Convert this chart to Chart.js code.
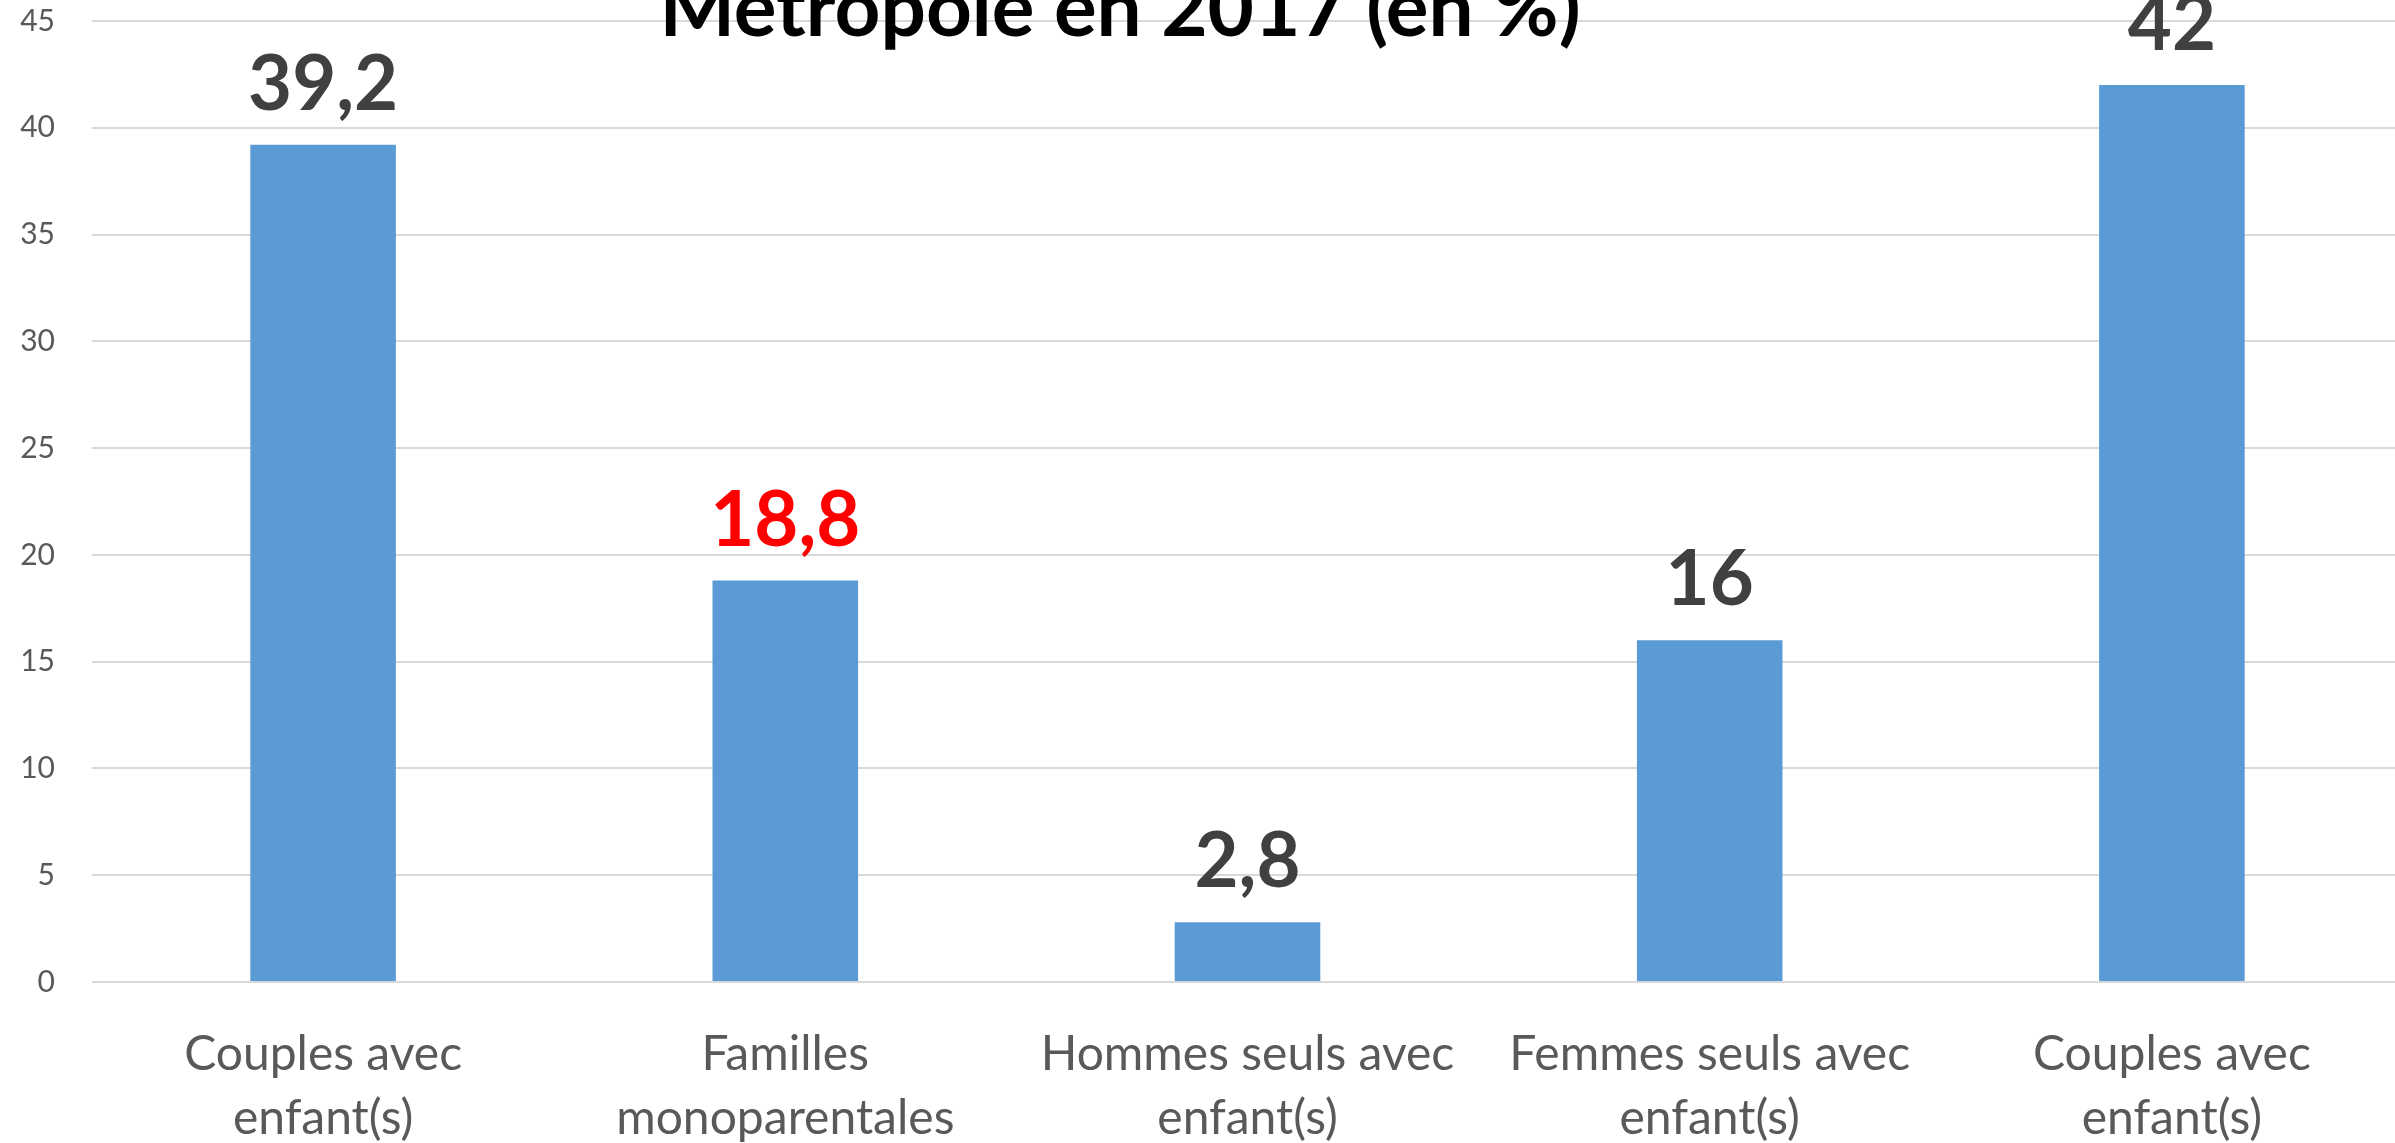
<!DOCTYPE html>
<html>
<head>
<meta charset="utf-8">
<script src="https://cdn.jsdelivr.net/npm/chart.js@4"></script>
<style>
  html, body { margin: 0; padding: 0; background: #fff; overflow: hidden; }
  #wrap { width: 2403px; height: 1143px; position: relative; }
</style>
</head>
<body>
<div id="wrap"><canvas id="graphique"></canvas></div>
<script>
const categories = [
  ["Couples avec", "enfant(s)"],
  ["Familles", "monoparentales"],
  ["Hommes seuls avec", "enfant(s)"],
  ["Femmes seuls avec", "enfant(s)"],
  ["Couples avec", "enfant(s)"]
];
const valeurs = [39.2, 18.8, 2.8, 16, 42];
const couleursEtiquettes = ["#404040", "#ff0000", "#404040", "#404040", "#404040"];
const titre = "Métropole en 2017 (en %)";

const police = "Lato, 'Open Sans', sans-serif";

// étiquettes de valeur au-dessus des barres
const etiquettesPlugin = {
  id: "etiquettes",
  afterDatasetsDraw(chart) {
    const ctx = chart.ctx;
    const meta = chart.getDatasetMeta(0);
    ctx.save();
    ctx.font = "bold 76px " + police;
    ctx.textAlign = "center";
    ctx.textBaseline = "alphabetic";
    meta.data.forEach((barre, i) => {
      ctx.fillStyle = couleursEtiquettes[i];
      ctx.fillText(valeurs[i].toLocaleString("fr-FR"), barre.x, barre.y - 35);
    });
    ctx.restore();
  }
};

// titre, dont seule la dernière ligne est visible
const titrePlugin = {
  id: "titre",
  afterDraw(chart) {
    const ctx = chart.ctx;
    ctx.save();
    ctx.font = "bold 80px " + police;
    ctx.fillStyle = "#000";
    ctx.textAlign = "center";
    ctx.fillText(titre, 1120, 36);
    ctx.restore();
  }
};

new Chart(document.getElementById("graphique"), {
  type: "bar",
  data: {
    labels: categories,
    datasets: [{
      data: valeurs,
      backgroundColor: "#5b9bd5",
      barPercentage: 0.315,
      categoryPercentage: 1
    }]
  },
  options: {
    responsive: true,
    maintainAspectRatio: false,
    animation: false,
    layout: { padding: { top: 21, right: 0, left: 0, bottom: 0 } },
    plugins: {
      legend: { display: false },
      tooltip: { enabled: false }
    },
    scales: {
      x: {
        grid: { display: false },
        border: { display: false },
        ticks: {
          color: "#595959",
          font: { family: police, size: 48, lineHeight: 1.34 },
          padding: 32,
          maxRotation: 0,
          autoSkip: false
        },
        afterFit(scale) {
          scale.height = 161;
          scale.paddingTop = 0;
          scale.paddingBottom = 0;
        }
      },
      y: {
        min: 0,
        max: 45,
        ticks: {
          stepSize: 5,
          color: "#595959",
          font: { family: police, size: 30 },
          padding: 37
        },
        grid: { color: "#d9d9d9", lineWidth: 2, drawTicks: false },
        border: { display: false },
        afterFit(scale) {
          scale.width = 92;
          scale.paddingTop = 0;
          scale.paddingBottom = 0;
        }
      }
    }
  },
  plugins: [etiquettesPlugin, titrePlugin]
});
</script>
</body>
</html>
